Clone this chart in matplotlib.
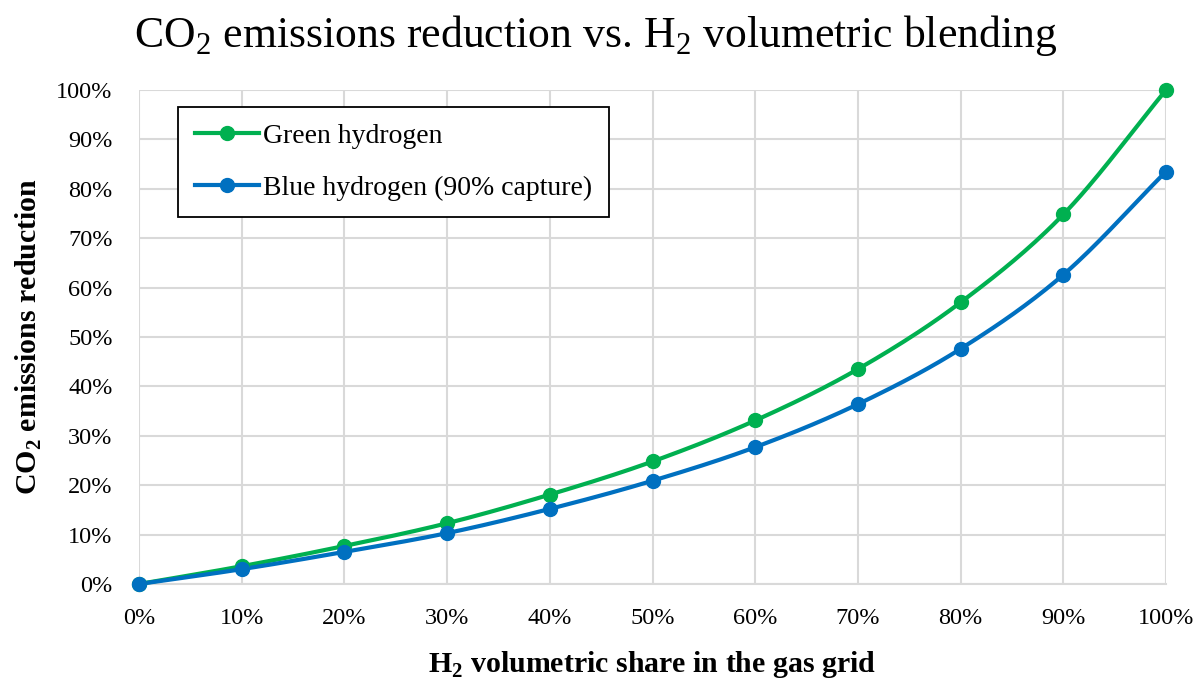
import numpy as np
import matplotlib
matplotlib.use("Agg")
import matplotlib.pyplot as plt
from matplotlib.ticker import PercentFormatter, MultipleLocator

# Data
share = [0, 10, 20, 30, 40, 50, 60, 70, 80, 90, 100]
green = [0, 3.6, 7.7, 12.3, 18.1, 24.8, 33.1, 43.5, 57.0, 74.8, 100.0]
blue = [0, 3.0, 6.5, 10.3, 15.2, 20.9, 27.7, 36.4, 47.6, 62.6, 83.5]
series_names = ["Green hydrogen", "Blue hydrogen (90% capture)"]
colors = ["#00B050", "#0070C0"]

plt.rcParams['font.family'] = ['Liberation Serif', 'DejaVu Serif']
plt.rcParams['mathtext.fontset'] = 'custom'
plt.rcParams['mathtext.rm'] = 'Liberation Serif'
plt.rcParams['mathtext.bf'] = 'Liberation Serif:bold'


def smooth(x, y, n=30):
    # Catmull-Rom spline through the points (Excel-style smoothed line)
    x = np.asarray(x, float); y = np.asarray(y, float)
    px = np.concatenate([[2 * x[0] - x[1]], x, [2 * x[-1] - x[-2]]])
    py = np.concatenate([[2 * y[0] - y[1]], y, [2 * y[-1] - y[-2]]])
    xs, ys = [], []
    t = np.linspace(0, 1, n)
    for i in range(1, len(px) - 2):
        for arr, out in ((px, xs), (py, ys)):
            p0, p1, p2, p3 = arr[i - 1], arr[i], arr[i + 1], arr[i + 2]
            out.extend(0.5 * ((2 * p1) + (-p0 + p2) * t +
                              (2 * p0 - 5 * p1 + 4 * p2 - p3) * t ** 2 +
                              (-p0 + 3 * p1 - 3 * p2 + p3) * t ** 3))
    return np.array(xs), np.array(ys)


fig = plt.figure(figsize=(12.03, 6.82), dpi=100)
ax = fig.add_axes([139 / 1203, 1 - 584 / 682, (1166 - 139) / 1203, (584 - 90) / 682])

for name, vals, c in zip(series_names, [green, blue], colors):
    sx, sy = smooth(share, vals)
    ax.plot(sx, sy, color=c, lw=3.0, solid_capstyle='round', zorder=3, clip_on=False)
    ax.plot(share, vals, 'o', color=c, ms=10, zorder=4, clip_on=False)
    ax.plot([], [], '-o', color=c, lw=3.0, ms=10, label=name)

ax.set_xlim(0, 100)
ax.set_ylim(0, 100)
ax.xaxis.set_major_locator(MultipleLocator(10))
ax.yaxis.set_major_locator(MultipleLocator(10))
ax.xaxis.set_major_formatter(PercentFormatter(decimals=0))
ax.yaxis.set_major_formatter(PercentFormatter(decimals=0))
ax.grid(True, color='#d9d9d9', lw=1.5)
ax.set_axisbelow(True)
for s in ['top', 'right', 'left']:
    ax.spines[s].set_visible(False)
ax.spines['bottom'].set_color('#d9d9d9')
ax.spines['bottom'].set_linewidth(1.5)
ax.tick_params(length=0, labelsize=17.5)
ax.tick_params(axis='x', pad=17)
ax.tick_params(axis='y', pad=19)

ax.set_xlabel(r"H$_\mathbf{2}$ volumetric share in the gas grid", fontsize=21.5,
              fontweight='bold', va='center')
ax.xaxis.set_label_coords(0.5, (584 - 665) / 494)
ax.set_ylabel(r"CO$_\mathbf{2}$ emissions reduction", fontsize=21.5,
              fontweight='bold', va='center')
ax.yaxis.set_label_coords((29 - 139) / 1027, 0.5)
fig.text(596 / 1203, 1 - 35 / 682, r"CO$_2$ emissions reduction vs. H$_2$ volumetric blending",
         ha='center', va='center', fontsize=31.5)

leg = ax.legend(loc='upper left', bbox_to_anchor=(0.038, 0.966), fontsize=20,
                frameon=True, fancybox=False, edgecolor='black', framealpha=1,
                borderpad=0.6, labelspacing=0.95, handlelength=2.3, handletextpad=0.15,
                borderaxespad=0)
leg.get_frame().set_linewidth(1.3)

fig.savefig("out.png", dpi=100)
